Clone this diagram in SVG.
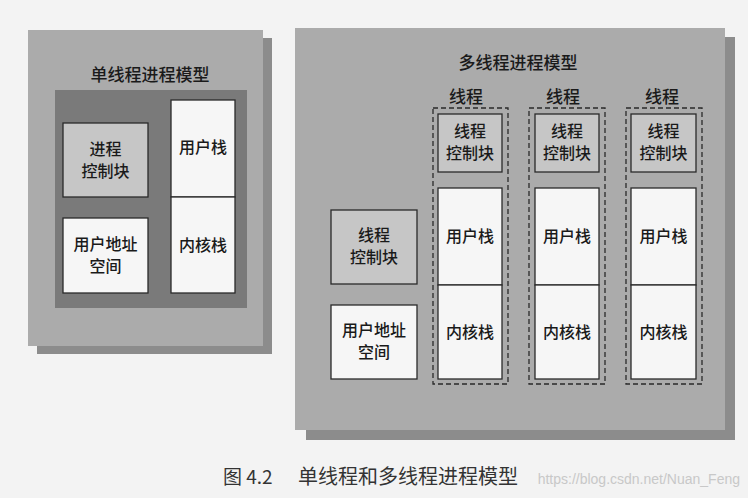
<svg xmlns="http://www.w3.org/2000/svg" width="748" height="498" viewBox="0 0 748 498">
<style>
text{font-family:"Noto Sans CJK SC","Noto Sans",sans-serif;fill:#1a1a1a;text-anchor:middle;font-weight:500}
.t{font-size:16px}
.panel{fill:#ababab}
.shadow{fill:#8c8c8c}
.box{stroke:#2a2a2a;stroke-width:1.3}
.tcb{fill:#c6c6c6}
.white{fill:#f6f6f6}
.dash{fill:none;stroke:#2a2a2a;stroke-width:1.3;stroke-dasharray:5 3}
</style>
<rect width="748" height="498" fill="#f3f3f3"/>
<g id="single">
<rect class="shadow" x="37" y="38" width="235" height="316"/>
<rect class="panel" x="28" y="30" width="235" height="316"/>
<text class="t" x="150" y="81" style="font-size:17px">单线程进程模型</text>
<rect x="55" y="90" width="192" height="218" fill="#7a7a7a"/>
<g id="s-pcb"><rect class="box tcb" x="63" y="123" width="85" height="74"/><text class="t" x="105.5" y="155">进程</text><text class="t" x="105.5" y="177">控制块</text></g>
<g id="s-uas"><rect class="box white" x="63" y="218" width="85" height="75"/><text class="t" x="105.5" y="250">用户地址</text><text class="t" x="105.5" y="272">空间</text></g>
<g id="s-us"><rect class="box white" x="171" y="100" width="64" height="97"/><text class="t" x="203" y="153">用户栈</text></g>
<g id="s-ks"><rect class="box white" x="171" y="197" width="64" height="96"/><text class="t" x="203" y="251">内核栈</text></g>
</g>
<g id="multi">
<rect class="shadow" x="306" y="37" width="429" height="403"/>
<rect class="panel" x="295" y="28" width="430" height="402"/>
<text class="t" x="518" y="69" style="font-size:17px">多线程进程模型</text>
<g id="m-tcb"><rect class="box tcb" x="331" y="210" width="86" height="74"/><text class="t" x="374" y="241">线程</text><text class="t" x="374" y="263">控制块</text></g>
<g id="m-uas"><rect class="box white" x="331" y="305" width="86" height="74"/><text class="t" x="374" y="336">用户地址</text><text class="t" x="374" y="358">空间</text></g>
<g id="thread1">
<text class="t" x="466" y="103" style="font-size:17px">线程</text>
<rect class="dash" x="433" y="108" width="75" height="276"/>
<rect class="box tcb" x="438" y="114" width="64" height="58"/><text class="t" x="470" y="137">线程</text><text class="t" x="470" y="159">控制块</text>
<rect class="box white" x="438" y="188" width="64" height="97"/><text class="t" x="470" y="242">用户栈</text>
<rect class="box white" x="438" y="285" width="64" height="94"/><text class="t" x="470" y="338">内核栈</text>
</g>
<g id="thread2">
<text class="t" x="563" y="103" style="font-size:17px">线程</text>
<rect class="dash" x="529" y="108" width="76" height="276"/>
<rect class="box tcb" x="535" y="114" width="64" height="58"/><text class="t" x="567" y="137">线程</text><text class="t" x="567" y="159">控制块</text>
<rect class="box white" x="535" y="188" width="64" height="97"/><text class="t" x="567" y="242">用户栈</text>
<rect class="box white" x="535" y="285" width="64" height="94"/><text class="t" x="567" y="338">内核栈</text>
</g>
<g id="thread3">
<text class="t" x="662" y="103" style="font-size:17px">线程</text>
<rect class="dash" x="626" y="108" width="76" height="276"/>
<rect class="box tcb" x="631" y="114" width="65" height="58"/><text class="t" x="663.5" y="137">线程</text><text class="t" x="663.5" y="159">控制块</text>
<rect class="box white" x="631" y="188" width="65" height="97"/><text class="t" x="663.5" y="242">用户栈</text>
<rect class="box white" x="631" y="285" width="65" height="94"/><text class="t" x="663.5" y="338">内核栈</text>
</g>
</g>
<g id="connectors"/>
<g id="caption">
<text x="223" y="484" style="text-anchor:start;font-size:19px;fill:#333;font-weight:400">图 4.2</text>
<text x="298" y="484" style="text-anchor:start;font-size:20px;fill:#333;font-weight:400">单线程和多线程进程模型</text>
<text x="740" y="484" style="text-anchor:end;font-size:14px;fill:#c8c8c8;font-weight:400;font-family:'Liberation Sans',sans-serif">https://blog.csdn.net/Nuan_Feng</text>
</g>
</svg>
